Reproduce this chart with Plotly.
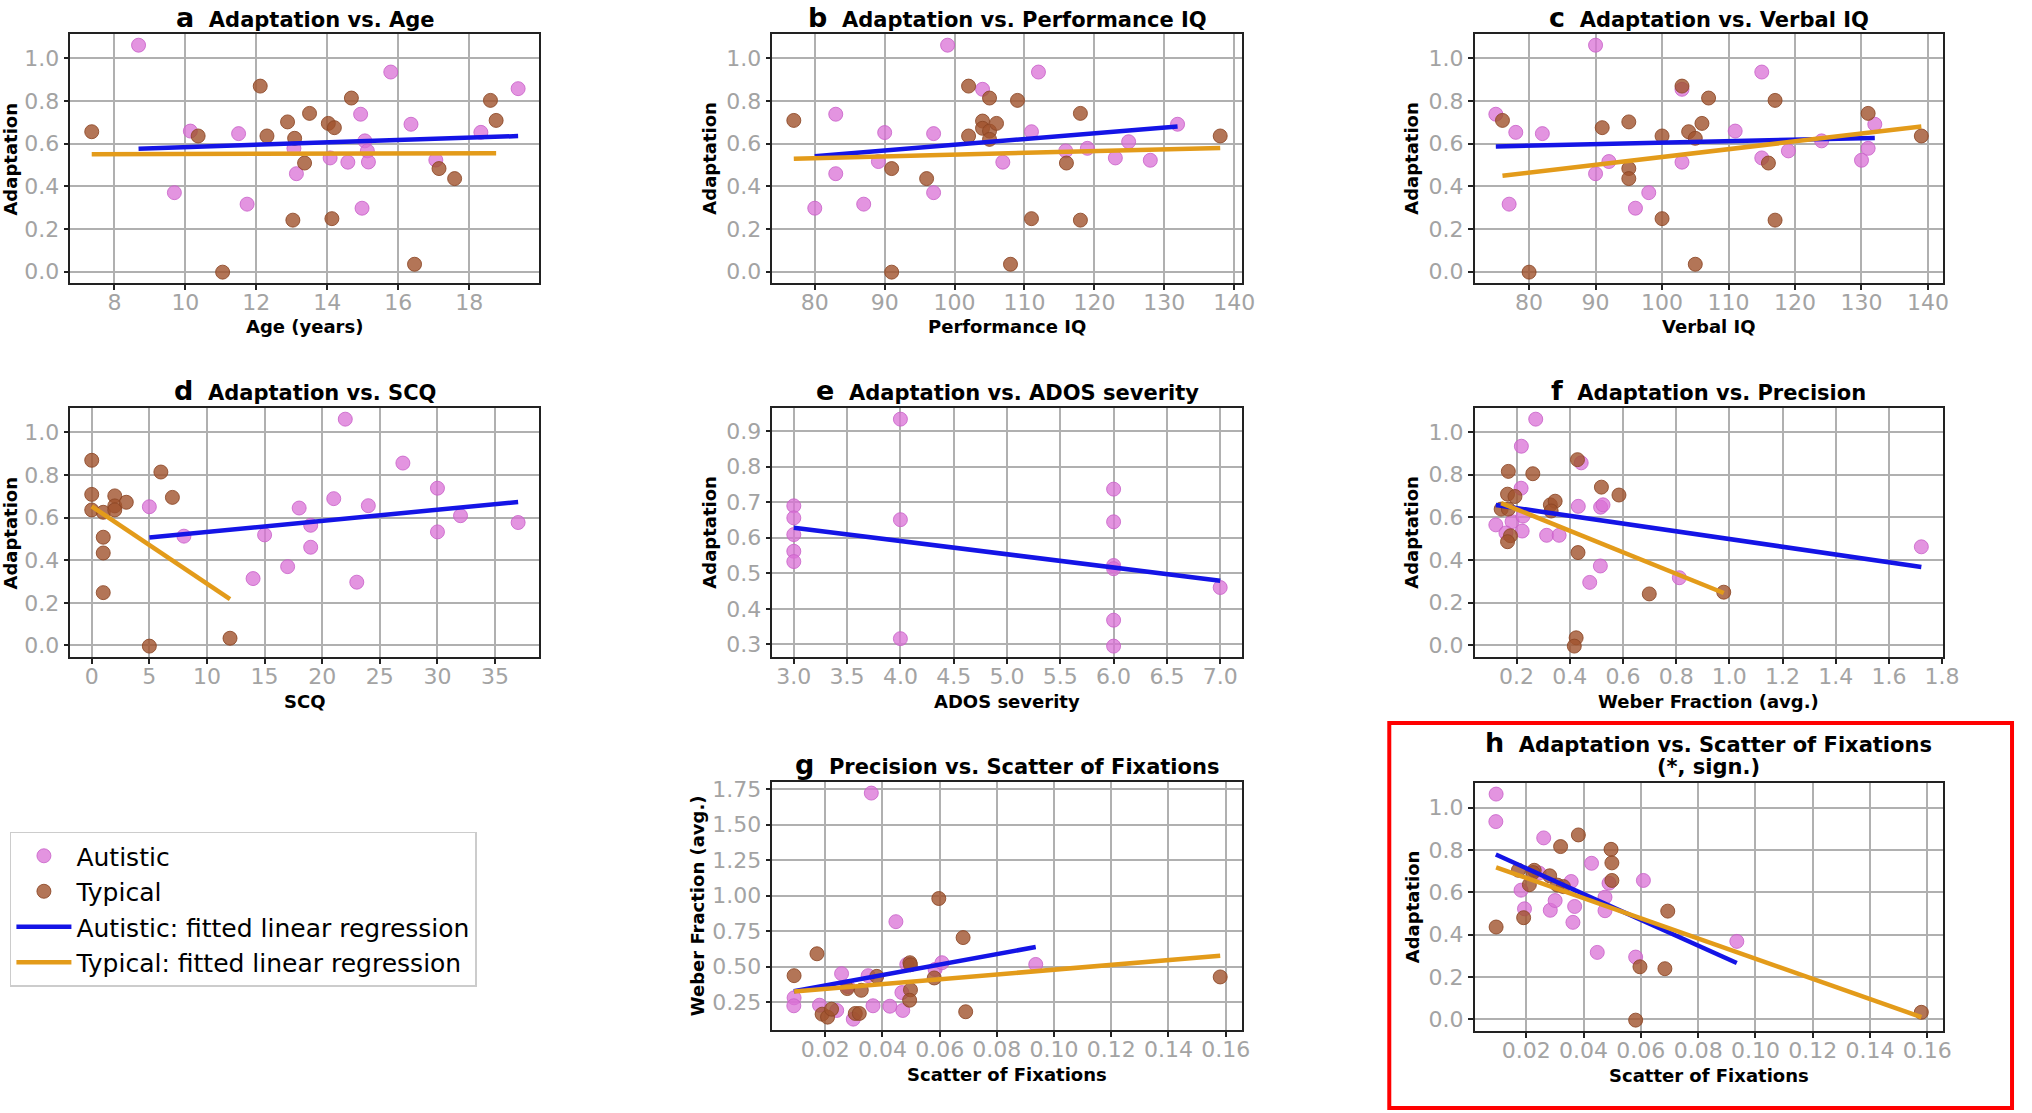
import numpy as np
import plotly.graph_objects as go

W, H = 2032, 1113

# ---------------- data ----------------
# a: Adaptation vs. Age
age_aut = [8.68, 9.69, 10.14, 11.50, 11.74, 13.06, 13.13, 14.08, 14.58, 14.94, 14.98, 15.06, 15.13, 15.16, 15.79, 16.36, 17.06, 18.33, 19.38]
adapt_age_aut = [1.062, 0.370, 0.659, 0.647, 0.316, 0.578, 0.459, 0.533, 0.513, 0.738, 0.297, 0.613, 0.566, 0.514, 0.936, 0.691, 0.523, 0.653, 0.858]
age_typ = [7.36, 10.36, 11.05, 12.11, 12.30, 12.88, 13.03, 13.08, 13.36, 13.50, 14.03, 14.13, 14.20, 14.68, 16.46, 17.15, 17.59, 18.60, 18.76]
adapt_age_typ = [0.656, 0.636, -0.003, 0.870, 0.636, 0.702, 0.241, 0.625, 0.509, 0.742, 0.695, 0.248, 0.675, 0.814, 0.034, 0.483, 0.436, 0.803, 0.709]

# b: Adaptation vs. Performance IQ
piq_aut = [80, 83, 83, 87, 89.1, 90, 97, 97, 99, 104, 106.9, 111, 112, 115.9, 119, 123, 124.9, 128, 131.9]
adapt_piq_aut = [0.297, 0.738, 0.459, 0.316, 0.516, 0.652, 0.647, 0.370, 1.062, 0.855, 0.513, 0.656, 0.936, 0.566, 0.578, 0.533, 0.609, 0.522, 0.691]
piq_typ = [77, 91, 91, 96, 102, 102, 104, 104, 105, 105, 105, 106, 108, 109, 111, 116, 118, 118, 138]
adapt_piq_typ = [0.709, 0.483, -0.003, 0.436, 0.870, 0.636, 0.706, 0.672, 0.814, 0.659, 0.620, 0.695, 0.034, 0.803, 0.248, 0.509, 0.742, 0.241, 0.636]

# c: Adaptation vs. Verbal IQ
viq_aut = [75, 77, 78, 82, 90, 90, 92, 96, 98, 103, 103, 111, 115, 115, 119, 124, 130, 131, 132]
adapt_viq_aut = [0.738, 0.316, 0.653, 0.647, 1.062, 0.459, 0.516, 0.297, 0.370, 0.855, 0.513, 0.659, 0.936, 0.533, 0.566, 0.613, 0.522, 0.578, 0.691]
viq_typ = [76, 80, 91, 95, 95, 95, 100, 100, 103, 104, 105, 105, 106, 107, 116, 117, 117, 131, 139]
adapt_viq_typ = [0.709, -0.003, 0.675, 0.702, 0.483, 0.436, 0.636, 0.248, 0.870, 0.656, 0.625, 0.034, 0.695, 0.814, 0.509, 0.803, 0.241, 0.742, 0.636]

# d: Adaptation vs. SCQ
scq_aut = [5, 8, 14, 15, 17, 18, 19, 19, 21, 22, 23, 24, 27, 30, 30, 32, 37]
adapt_scq_aut = [0.651, 0.513, 0.314, 0.519, 0.370, 0.645, 0.564, 0.461, 0.689, 1.062, 0.297, 0.656, 0.856, 0.738, 0.533, 0.609, 0.577]
scq_typ = [0, 0, 0, 1, 1, 1, 1, 2, 2, 2, 3, 5, 6, 7, 12]
adapt_scq_typ = [0.869, 0.709, 0.636, 0.625, 0.508, 0.434, 0.248, 0.702, 0.655, 0.636, 0.672, -0.003, 0.814, 0.695, 0.034]

# e: Adaptation vs. ADOS severity (autistic only)
ados_aut = [3, 3, 3, 3, 3, 4, 4, 4, 6, 6, 6, 6, 6, 6, 7]
adapt_ados_aut = [0.690, 0.656, 0.609, 0.562, 0.533, 0.934, 0.651, 0.316, 0.737, 0.645, 0.522, 0.513, 0.368, 0.295, 0.460]

# f: Adaptation vs. Precision (Weber fraction)
wf_aut = [0.272, 0.218, 0.217, 0.122, 0.183, 0.160, 0.224, 0.221, 0.313, 0.360, 0.432, 0.443, 0.516, 0.525, 0.515, 0.475, 0.812, 1.722]
adapt_wf_aut = [1.061, 0.934, 0.737, 0.565, 0.580, 0.527, 0.606, 0.536, 0.516, 0.516, 0.652, 0.856, 0.648, 0.659, 0.372, 0.295, 0.317, 0.462]
wf_typ = [0.169, 0.261, 0.429, 0.519, 0.585, 0.166, 0.194, 0.142, 0.169, 0.327, 0.345, 0.330, 0.431, 0.177, 0.166, 0.699, 0.979, 0.424, 0.417]
adapt_wf_typ = [0.816, 0.805, 0.871, 0.742, 0.705, 0.709, 0.698, 0.639, 0.639, 0.659, 0.676, 0.630, 0.435, 0.514, 0.486, 0.241, 0.249, 0.035, -0.004]

# g: Precision vs. Scatter of Fixations
sf_g_aut = [0.0361, 0.0447, 0.0257, 0.0350, 0.0091, 0.0090, 0.0180, 0.0240, 0.0298, 0.0367, 0.0426, 0.0471, 0.0468, 0.0485, 0.0584, 0.0608, 0.0936, 0.0279]
wf_g_aut = [1.722, 0.817, 0.451, 0.437, 0.281, 0.225, 0.229, 0.192, 0.131, 0.225, 0.222, 0.192, 0.318, 0.516, 0.481, 0.528, 0.516, 0.360]
sf_g_typ = [0.0597, 0.0682, 0.0171, 0.0091, 0.0380, 0.0496, 0.0498, 0.0581, 0.0277, 0.0326, 0.0498, 0.0495, 0.0691, 0.1581, 0.0189, 0.0208, 0.0222, 0.0305, 0.0319]
wf_g_typ = [0.980, 0.705, 0.591, 0.437, 0.432, 0.528, 0.514, 0.421, 0.346, 0.334, 0.337, 0.264, 0.183, 0.428, 0.166, 0.145, 0.201, 0.171, 0.171]

# h: Adaptation vs. Scatter of Fixations
sf_h_aut = [0.0095, 0.0094, 0.0261, 0.0182, 0.0194, 0.0284, 0.0301, 0.0357, 0.0363, 0.0369, 0.0428, 0.0448, 0.0475, 0.0475, 0.0489, 0.0609, 0.0582, 0.0935, 0.0245]
adapt_sf_aut = [1.064, 0.934, 0.857, 0.610, 0.522, 0.515, 0.561, 0.651, 0.458, 0.533, 0.737, 0.316, 0.577, 0.513, 0.643, 0.656, 0.294, 0.368, 0.691]
sf_h_typ = [0.0095, 0.0191, 0.0173, 0.0228, 0.0224, 0.0211, 0.0282, 0.0320, 0.0309, 0.0330, 0.0382, 0.0496, 0.0499, 0.0499, 0.0694, 0.0597, 0.0684, 0.0582, 0.1579]
adapt_sf_typ = [0.436, 0.480, 0.704, 0.704, 0.693, 0.636, 0.678, 0.816, 0.634, 0.627, 0.871, 0.803, 0.739, 0.656, 0.511, 0.248, 0.239, -0.004, 0.033]

# tick values
ticks_age = [8, 10, 12, 14, 16, 18]
ticks_iq = [80, 90, 100, 110, 120, 130, 140]
ticks_scq = [0, 5, 10, 15, 20, 25, 30, 35]
ticks_ados = [3.0, 3.5, 4.0, 4.5, 5.0, 5.5, 6.0, 6.5, 7.0]
ticks_wf = [0.2, 0.4, 0.6, 0.8, 1.0, 1.2, 1.4, 1.6, 1.8]
ticks_sf = [0.02, 0.04, 0.06, 0.08, 0.10, 0.12, 0.14, 0.16]
ticks_adapt = [0.0, 0.2, 0.4, 0.6, 0.8, 1.0]
ticks_adapt_e = [0.3, 0.4, 0.5, 0.6, 0.7, 0.8, 0.9]
ticks_wf_y = [0.25, 0.50, 0.75, 1.00, 1.25, 1.50, 1.75]

legend_names = ["Autistic", "Typical", "Autistic: fitted linear regression", "Typical: fitted linear regression"]

# ---------------- styling ----------------
PINK = "rgba(218,112,214,0.75)"
PINK_EDGE = "rgba(200,95,200,0.8)"
BROWN = "rgba(160,82,45,0.8)"
BROWN_EDGE = "rgba(140,70,38,0.85)"
BLUE = "#1414E6"
ORANGE = "#E39B1A"
FONT = "DejaVu Sans"

# pixel boxes of the axes
cols = [(71, 544), (779, 1252), (1487, 1959)]
rows = [(29, 280), (405, 656), (781, 1031)]

panels = [
    dict(k="a", t="Adaptation vs. Age", xl="Age (years)", yl="Adaptation", c=0, r=0,
         aut=(age_aut, adapt_age_aut), typ=(age_typ, adapt_age_typ), xt=ticks_age, xf="d", yt=ticks_adapt, yf=".1f"),
    dict(k="b", t="Adaptation vs. Performance IQ", xl="Performance IQ", yl="Adaptation", c=1, r=0,
         aut=(piq_aut, adapt_piq_aut), typ=(piq_typ, adapt_piq_typ), xt=ticks_iq, xf="d", yt=ticks_adapt, yf=".1f"),
    dict(k="c", t="Adaptation vs. Verbal IQ", xl="Verbal IQ", yl="Adaptation", c=2, r=0,
         aut=(viq_aut, adapt_viq_aut), typ=(viq_typ, adapt_viq_typ), xt=ticks_iq, xf="d", yt=ticks_adapt, yf=".1f"),
    dict(k="d", t="Adaptation vs. SCQ", xl="SCQ", yl="Adaptation", c=0, r=1,
         aut=(scq_aut, adapt_scq_aut), typ=(scq_typ, adapt_scq_typ), xt=ticks_scq, xf="d", yt=ticks_adapt, yf=".1f"),
    dict(k="e", t="Adaptation vs. ADOS severity", xl="ADOS severity", yl="Adaptation", c=1, r=1,
         aut=(ados_aut, adapt_ados_aut), typ=None, xt=ticks_ados, xf=".1f", yt=ticks_adapt_e, yf=".1f"),
    dict(k="f", t="Adaptation vs. Precision", xl="Weber Fraction (avg.)", yl="Adaptation", c=2, r=1,
         aut=(wf_aut, adapt_wf_aut), typ=(wf_typ, adapt_wf_typ), xt=ticks_wf, xf=".1f", yt=ticks_adapt, yf=".1f"),
    dict(k="g", t="Precision vs. Scatter of Fixations", xl="Scatter of Fixations", yl="Weber Fraction (avg.)", c=1, r=2,
         aut=(sf_g_aut, wf_g_aut), typ=(sf_g_typ, wf_g_typ), xt=ticks_sf, xf=".2f", yt=ticks_wf_y, yf=".2f"),
    dict(k="h", t="Adaptation vs. Scatter of Fixations", xl="Scatter of Fixations", yl="Adaptation", c=2, r=2,
         aut=(sf_h_aut, adapt_sf_aut), typ=(sf_h_typ, adapt_sf_typ), xt=ticks_sf, xf=".2f", yt=ticks_adapt, yf=".1f"),
]

def px_x(p):
    return p / W

def px_y(p):
    return 1 - p / H

def padded(vals):
    lo, hi = min(vals), max(vals)
    m = 0.05 * (hi - lo)
    return [lo - m, hi + m]

fig = go.Figure()
annotations = []
ylab_x = {0: 11, 1: 716, 2: 1424}
title_y = {0: 13, 1: 388, 2: 764}
xlab_y = {0: 323, 1: 700, 2: 1075}

for i, p in enumerate(panels):
    n = "" if i == 0 else str(i + 1)
    xa, ya = "x" + n, "y" + n
    x0, x1 = cols[p["c"]]
    top, bot = rows[p["r"]]
    if p["k"] == "h":
        top, bot = 782, 1032
    first = (i == 0)

    groups = [("aut", p["aut"], PINK, PINK_EDGE, BLUE, legend_names[0], legend_names[2])]
    if p["typ"] is not None:
        groups.append(("typ", p["typ"], BROWN, BROWN_EDGE, ORANGE, legend_names[1], legend_names[3]))

    for g, (xs, ys), col, edge, lcol, nm, lnm in groups:
        fig.add_trace(go.Scatter(x=xs, y=ys, mode="markers", xaxis=xa, yaxis=ya,
                                 marker=dict(size=14, color=col, line=dict(color=edge, width=1)),
                                 name=nm, legendgroup=g + "pts", showlegend=first, legendrank=1 if g == "aut" else 2))
    for g, (xs, ys), col, edge, lcol, nm, lnm in groups:
        coef = np.polyfit(np.array(xs, float), np.array(ys, float), 1)
        lx = np.array([min(xs), max(xs)], float)
        fig.add_trace(go.Scatter(x=lx, y=np.polyval(coef, lx), mode="lines", xaxis=xa, yaxis=ya,
                                 line=dict(color=lcol, width=4.5),
                                 name=lnm, legendgroup=g + "line", showlegend=first, legendrank=3 if g == "aut" else 4))

    allx = list(p["aut"][0]) + (list(p["typ"][0]) if p["typ"] else [])
    ally = list(p["aut"][1]) + (list(p["typ"][1]) if p["typ"] else [])

    axis_common = dict(showgrid=True, gridcolor="#b0b0b0", gridwidth=1.5, showline=True,
                       linecolor="#222222", linewidth=1.5, mirror=True, ticks="outside", ticklen=5,
                       tickwidth=1.5, tickcolor="#222222", zeroline=False,
                       tickfont=dict(family=FONT, size=22, color="#a3a3a3"))
    fig.update_layout(**{
        ("xaxis" + n): dict(axis_common, domain=[px_x(x0), px_x(x1)], anchor=ya,
                             range=padded(allx), tickvals=p["xt"], tickformat=p["xf"],
                             ticklabelstandoff=-7),
        ("yaxis" + n): dict(axis_common, domain=[px_y(bot), px_y(top)], anchor=xa,
                             range=padded(ally), tickvals=p["yt"], tickformat=p["yf"]),
    })

    cx = (x0 + x1) / 2
    cy = (top + bot) / 2
    if p["k"] == "h":
        annotations.append(dict(x=px_x(cx), y=px_y(741), xref="paper", yref="paper", showarrow=False,
                                text="<b><span style='font-size:27px'>h</span>\u00a0\u00a0" + p["t"] + "</b>",
                                font=dict(family=FONT, size=21, color="black"), xanchor="center", yanchor="middle"))
        annotations.append(dict(x=px_x(cx), y=px_y(766), xref="paper", yref="paper", showarrow=False,
                                text="<b>(*, sign.)</b>",
                                font=dict(family=FONT, size=21, color="black"), xanchor="center", yanchor="middle"))
        xly = 1076
    else:
        annotations.append(dict(x=px_x(cx), y=px_y(title_y[p["r"]]), xref="paper", yref="paper", showarrow=False,
                                text="<b><span style='font-size:27px'>" + p["k"] + "</span>\u00a0\u00a0" + p["t"] + "</b>",
                                font=dict(family=FONT, size=21, color="black"), xanchor="center", yanchor="middle"))
        xly = xlab_y[p["r"]]
    annotations.append(dict(x=px_x(cx), y=px_y(xly), xref="paper", yref="paper", showarrow=False,
                            text="<b>" + p["xl"] + "</b>", font=dict(family=FONT, size=18, color="black"),
                            xanchor="center", yanchor="middle"))
    ylx = 703 if p["k"] == "g" else ylab_x[p["c"]]
    annotations.append(dict(x=px_x(ylx), y=px_y(cy), xref="paper", yref="paper", showarrow=False,
                            text="<b>" + p["yl"] + "</b>", font=dict(family=FONT, size=18, color="black"),
                            textangle=-90, xanchor="center", yanchor="middle"))

fig.update_layout(
    width=W, height=H, margin=dict(l=0, r=0, t=0, b=0),
    paper_bgcolor="white", plot_bgcolor="white",
    font=dict(family=FONT, color="black"),
    annotations=annotations,
    shapes=[dict(type="rect", xref="paper", yref="paper",
                 x0=px_x(1401), x1=px_x(2029), y0=px_y(1109), y1=px_y(722),
                 line=dict(color="#ff0000", width=4))],
    legend=dict(x=px_x(10), y=px_y(831), xanchor="left", yanchor="top",
                bgcolor="white", bordercolor="#cccccc", borderwidth=1.5,
                font=dict(family=FONT, size=25, color="black"),
                tracegroupgap=10, traceorder="normal", itemwidth=55),
)

fig.write_html("out.html", config={"displayModeBar": False},
               post_script="document.body.style.margin='0px';document.body.style.overflow='hidden';")
